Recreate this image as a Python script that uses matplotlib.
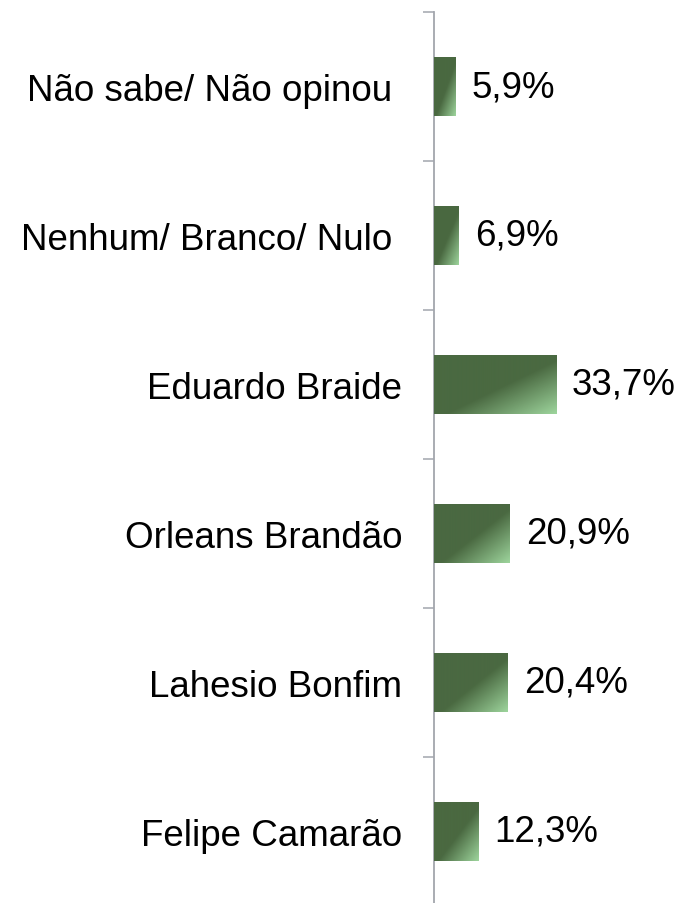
import numpy as np
import matplotlib.pyplot as plt
from matplotlib.colors import LinearSegmentedColormap

plt.rcParams['font.family'] = ['Liberation Sans', 'DejaVu Sans']

categories = ["Não sabe/ Não opinou ", "Nenhum/ Branco/ Nulo ", "Eduardo Braide",
              "Orleans Brandão", "Lahesio Bonfim", "Felipe Camarão"]
values = [5.9, 6.9, 33.7, 20.9, 20.4, 12.3]
value_labels = ["5,9%", "6,9%", "33,7%", "20,9%", "20,4%", "12,3%"]

dark = "#4a6941"
light = "#9dd49c"
cmap = LinearSegmentedColormap.from_list(
    "bar", [(0.0, dark), (0.55, dark), (1.0, light)])

fig = plt.figure(figsize=(6.82, 9.04), dpi=100)
ax = fig.add_axes([434 / 682, -3 / 904, 1 - 434 / 682, 894 / 904])

y = np.arange(len(categories))
bars = ax.barh(y, values, height=0.4, color=dark, zorder=2)

# diagonal gradient inside each bar
nx, ny = 200, 60
u = np.linspace(0, 1, nx)[None, :]
v = np.linspace(0, 1, ny)[:, None]
grad = (u + v) / 2
for b in bars:
    x0, y0 = b.get_x(), b.get_y()
    w, h = b.get_width(), b.get_height()
    im = ax.imshow(grad, cmap=cmap, vmin=0, vmax=1, aspect='auto',
                   extent=[x0, x0 + w, y0 + h, y0], origin='upper', zorder=3)
    im.set_clip_path(b)
ax.set_xlim(0, 68.5)
ax.set_ylim(len(categories) - 0.5, -0.5)

fs = 26.5
for yi, val, lab in zip(y, values, value_labels):
    ax.annotate(lab, (val, yi), xytext=(11.5, 0), textcoords='offset points',
                ha='left', va='center', fontsize=fs, color='black')

# tick marks between categories
ax.set_yticks(np.arange(-0.5, len(categories) + 0.5, 1.0))
ax.set_yticklabels([])
ax.set_yticks(y, minor=True)
ax.set_yticklabels(categories, minor=True, fontsize=fs)
ax.tick_params(axis='y', which='minor', length=0, pad=23)
ax.tick_params(axis='y', which='major', length=8, width=1.1, color="#a2a6ad")

ax.set_xticks([])
for side in ['top', 'right', 'bottom']:
    ax.spines[side].set_visible(False)
ax.spines['left'].set_color("#a2a6ad")
ax.spines['left'].set_linewidth(1.3)

fig.savefig("out.png", dpi=100)
